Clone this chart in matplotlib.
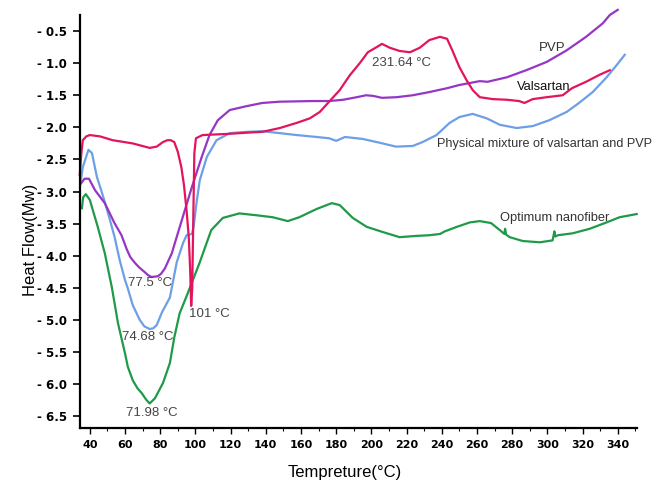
import numpy as np
import matplotlib
matplotlib.use("Agg")
import matplotlib.pyplot as plt
from matplotlib.ticker import MultipleLocator, FixedLocator, FixedFormatter

# --- data (temperature in C, heat flow in mW) ---
valsartan_t = [34.3, 35.2, 36, 38, 40, 45.7, 53, 64.4, 74, 78, 81.5, 84, 86,
               88, 90, 92, 93.5, 95.0, 96.2, 97.0, 97.6, 98.2, 98.8, 99.4,
               100.3, 104, 119.5, 131, 138, 148, 157.6, 165, 170.7, 176, 182,
               187.7, 193.4, 198, 203, 206, 210.5, 216, 222, 227.5, 233, 239,
               243, 246, 250, 254, 257.6, 261.6, 269, 277, 284, 287, 291.7,
               299.6, 308.7, 314, 322, 329.8, 335.5]
valsartan_v = [-2.74, -2.4, -2.2, -2.14, -2.12, -2.14, -2.2, -2.25, -2.32,
               -2.3, -2.23, -2.2, -2.2, -2.23, -2.38, -2.62, -2.9, -3.3, -3.7,
               -4.2, -4.78, -4.5, -3.4, -2.4, -2.17, -2.12, -2.1, -2.08, -2.07,
               -2.01, -1.93, -1.86, -1.76, -1.6, -1.42, -1.19, -1.0, -0.83,
               -0.75, -0.7, -0.76, -0.81, -0.83, -0.76, -0.64, -0.59, -0.62,
               -0.8, -1.06, -1.26, -1.42, -1.53, -1.56, -1.57, -1.59, -1.62,
               -1.56, -1.53, -1.5, -1.39, -1.29, -1.18, -1.11]

pvp_t = [34.8, 37, 39.5, 43, 48.5, 54, 58, 61, 63, 65.6, 68, 71, 73, 75, 78.6,
         80.5, 82.6, 86.6, 90, 94, 98, 103.6, 108, 112.7, 119.5, 129, 138, 148,
         166.7, 176, 184, 191.7, 197, 201, 206, 214.4, 223.5, 233, 243, 250,
         261.6, 266, 277, 288, 299.7, 311, 322, 331.5, 335.5, 340]
pvp_v = [-2.88, -2.8, -2.8, -2.98, -3.18, -3.49, -3.68, -3.9, -4.02, -4.11,
         -4.18, -4.25, -4.3, -4.33, -4.32, -4.28, -4.2, -3.96, -3.65, -3.29,
         -2.93, -2.46, -2.12, -1.89, -1.73, -1.67, -1.62, -1.6, -1.59, -1.59,
         -1.57, -1.53, -1.5, -1.51, -1.54, -1.53, -1.5, -1.45, -1.39, -1.34,
         -1.28, -1.29, -1.22, -1.11, -0.98, -0.8, -0.59, -0.38, -0.25, -0.17]

mix_t = [34.8, 36, 39.2, 41.2, 44, 47.6, 51, 54, 57, 60, 61.5, 64.4, 68.4, 71,
         74, 76, 78, 81, 85.5, 89.4, 93, 95, 98, 99, 100.6, 102.5, 106.5, 112,
         119.5, 129, 138, 148, 157.6, 169, 176, 180, 185, 195, 204.8, 214,
         223.5, 229, 237, 244.5, 250, 257.6, 265.6, 273, 282.6, 291.7, 301,
         311, 318, 325.8, 333.7, 339.4, 344]
mix_v = [-2.85, -2.62, -2.35, -2.4, -2.77, -3.08, -3.4, -3.7, -4.07, -4.38,
         -4.5, -4.77, -5.0, -5.1, -5.14, -5.13, -5.08, -4.88, -4.65, -4.1,
         -3.8, -3.68, -3.66, -3.55, -3.18, -2.82, -2.46, -2.2, -2.09, -2.07,
         -2.06, -2.09, -2.12, -2.15, -2.17, -2.21, -2.15, -2.18, -2.24, -2.3,
         -2.29, -2.23, -2.12, -1.93, -1.84, -1.79, -1.86, -1.96, -2.01, -1.98,
         -1.89, -1.76, -1.62, -1.45, -1.22, -1.03, -0.87]

fiber_t = [35.5, 36.2, 37.7, 40, 44.5, 48.5, 52.5, 56, 60, 61.6, 64.4, 67,
           69.5, 72, 74, 77, 81.6, 85.5, 88, 91, 95.7, 102.5, 109, 115.6, 125,
           135, 144, 152.5, 159, 169, 177.5, 182, 189.4, 197.4, 206.5, 216,
           225.8, 233, 239, 241.7, 248.5, 256, 261.6, 268, 273, 275.6, 276.0,
           276.6, 278.6, 286, 295.7, 303, 304, 304.5, 306, 314.4, 324, 333.7,
           341, 350.8]
fiber_v = [-3.26, -3.09, -3.04, -3.13, -3.55, -3.96, -4.49, -5.05, -5.52,
           -5.73, -5.94, -6.06, -6.14, -6.24, -6.3, -6.22, -5.98, -5.67,
           -5.27, -4.9, -4.58, -4.1, -3.6, -3.41, -3.34, -3.37, -3.4, -3.46,
           -3.4, -3.27, -3.18, -3.21, -3.41, -3.55, -3.63, -3.71, -3.69, -3.68,
           -3.66, -3.62, -3.55, -3.48, -3.46, -3.49, -3.6, -3.66, -3.58, -3.67,
           -3.71, -3.77, -3.79, -3.76, -3.62, -3.7, -3.68, -3.65, -3.58, -3.48,
           -3.4, -3.35]

y_ticks = [-0.5, -1.0, -1.5, -2.0, -2.5, -3.0, -3.5, -4.0, -4.5, -5.0, -5.5,
           -6.0, -6.5]
y_labels = ["- 0.5", "- 1.0", "- 1.5", "- 2.0", "- 2.5", "- 3.0", "- 3.5",
            "- 4.0", "- 4.5", "- 5.0", "- 5.5", "- 6.0", "- 6.5"]
x_ticks = list(range(40, 341, 20))

peak_labels = [("77.5 °C", 74, -4.43), ("74.68 °C", 73, -5.27),
               ("71.98 °C", 75, -6.45), ("101 °C", 108, -4.9),
               ("231.64 °C", 217, -1.0)]

# --------------------------------------------------------------------------- #
fig = plt.figure(figsize=(6.65, 4.84), dpi=100)
ax = fig.add_axes([0.120, 0.116, 0.838, 0.853])

ax.plot(fiber_t, fiber_v, color="#1f9a48", lw=1.6, clip_on=False)
ax.plot(mix_t, mix_v, color="#6d9fe6", lw=1.6, clip_on=False)
ax.plot(pvp_t, pvp_v, color="#9636c4", lw=1.6, clip_on=False)
ax.plot(valsartan_t, valsartan_v, color="#e3145f", lw=1.6, clip_on=False)

ax.set_xlim(34.3, 351)
ax.set_ylim(-6.68, -0.25)

for s in ("top", "right"):
    ax.spines[s].set_visible(False)
ax.spines["left"].set_linewidth(1.6)
ax.spines["bottom"].set_linewidth(1.6)

ax.yaxis.set_major_locator(FixedLocator(y_ticks))
ax.yaxis.set_major_formatter(FixedFormatter(y_labels))
ax.xaxis.set_major_locator(FixedLocator(x_ticks))
ax.xaxis.set_minor_locator(MultipleLocator(10))
ax.tick_params(axis="y", length=5, width=1.2, pad=4, labelsize=8.5)
ax.tick_params(axis="x", which="major", length=4, width=1.0, pad=5,
               labelsize=8)
ax.tick_params(axis="x", which="minor", length=2.5, width=0.8)
for lab in ax.get_xticklabels() + ax.get_yticklabels():
    lab.set_fontweight("bold")

for txt, t, v in peak_labels:
    ax.text(t, v, txt, ha="center", va="center", fontsize=9.5,
            color="#444444", family="Liberation Sans")

ax.text(303, -0.76, "PVP", ha="center", va="center", fontsize=9.5,
        color="#333333", family="Liberation Sans")
ax.text(298, -1.37, "Valsartan", ha="center", va="center", fontsize=9.3,
        color="#111111", family="Liberation Sans")
ax.text(298.5, -2.26, "Physical mixture of valsartan and PVP", ha="center",
        va="center", fontsize=9.1, color="#333333", family="Liberation Sans")
ax.text(304, -3.41, "Optimum nanofiber", ha="center", va="center",
        fontsize=9.3, color="#333333", family="Liberation Sans")

fig.text(345 / 665, 1 - 473 / 484, "Tempreture(°C)", ha="center",
         va="center", fontsize=12, family="Liberation Sans")
fig.text(30 / 665, 1 - 240 / 484, "Heat Flow(Mw)", ha="center", va="center",
         rotation=90, fontsize=12, family="Liberation Sans")

fig.savefig("out.png", dpi=100)
